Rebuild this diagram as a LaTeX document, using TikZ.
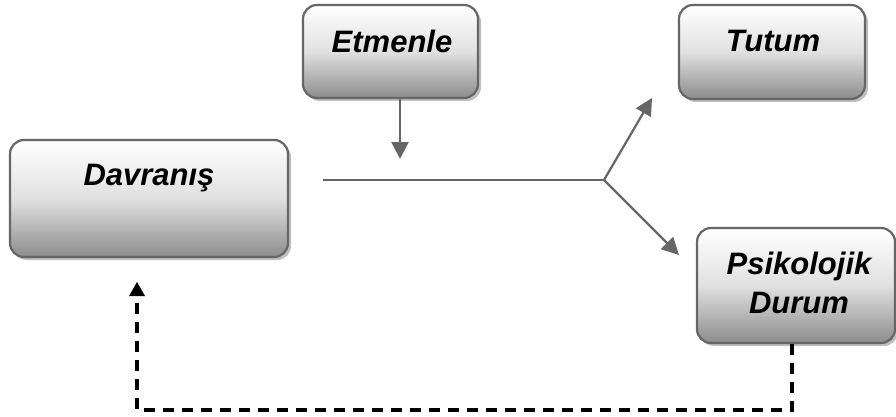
\documentclass[tikz,border=0pt]{standalone}
\usepackage{fontspec}
\setmainfont{Liberation Sans}
\usetikzlibrary{shadows,arrows.meta}
\tikzset{
  box/.style={draw=black!60, line width=2.2pt, rounded corners=14pt,
    top color=white, bottom color=black!45, middle color=black!12,
    drop shadow={shadow xshift=3pt, shadow yshift=-3pt, fill=black!25, opacity=1},
    inner sep=0pt},
  lbl/.style={font=\fontsize{31}{39}\selectfont\bfseries\itshape, align=center, inner sep=0pt},
  arr/.style={draw=black!60, line width=2.2pt, -{Triangle[length=17pt,width=17pt]}},
  ln/.style={draw=black!60, line width=2.2pt},
  dashln/.style={draw=black, line width=3.4pt, dash pattern=on 11pt off 8pt},
}
\begin{document}
\begin{tikzpicture}[x=1pt,y=-1pt]
\useasboundingbox (0,0) rectangle (896,417);
% boxes
\node[box, minimum width=278pt, minimum height=117pt] (dav) at (149,198.5) {};
\node[box, minimum width=175pt, minimum height=93pt] (etm) at (390.5,51.5) {};
\node[box, minimum width=186pt, minimum height=94pt] (tut) at (772,52) {};
\node[box, minimum width=198pt, minimum height=115pt] (psi) at (796,285.5) {};
% labels
\node[lbl] (davt) at (149,178) {Davranış};
\node[lbl] (etmt) at (392,41) {Etmenle};
\node[lbl] (tutt) at (773,41) {Tutum};
\node[lbl] (psit) at (799,283) {Psikolojik\\Durum};
% coordinates
\coordinate (e1) at (400,159);
\coordinate (hs) at (323,180);
\coordinate (j) at (604,180);
\coordinate (t1) at (652,98);
\coordinate (p1) at (679,255);
\coordinate (d1) at (792,410);
\coordinate (d2) at (137,410);
\coordinate (d3) at (137,282);
% connectors
\draw[arr] (etm.south -| e1) -- (e1);
\draw[ln] (hs) -- (j);
\draw[arr] (j) -- (t1);
\draw[arr] (j) -- (p1);
\draw[dashln] (psi.south -| d1) -- (d1) -- (d2) -- ([yshift=-14pt]d3);
\fill (d3) -- ++(-8,14) -- ++(16,0) -- cycle;
\end{tikzpicture}
\end{document}
